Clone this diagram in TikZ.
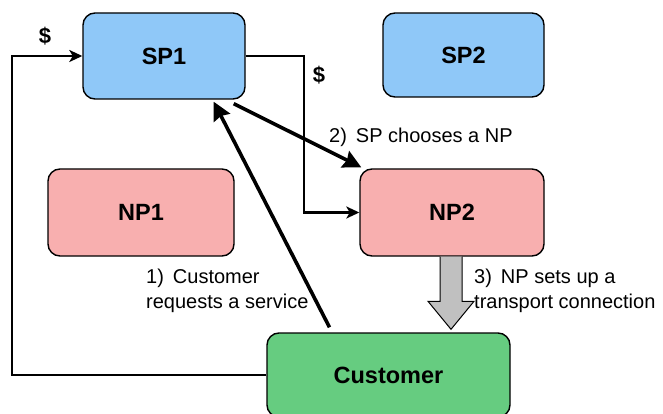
\documentclass[tikz,border=0pt]{standalone}
\usepackage{fontspec}
\setmainfont{Liberation Sans}
\usetikzlibrary{arrows.meta,calc}
\definecolor{spblue}{HTML}{8FC8F8}
\definecolor{nppink}{HTML}{F8AFAF}
\definecolor{custgreen}{HTML}{66CC80}
\definecolor{arrgray}{HTML}{C0C0C0}
\begin{document}
\begin{tikzpicture}[x=1pt,y=-1pt,
  box/.style={draw=black, line width=1.4pt, rounded corners=12pt, inner sep=0pt,
    font=\fontsize{23.5}{27}\selectfont\bfseries},
  thinarr/.style={draw=black, line width=2.2pt, -{Stealth[length=13pt,width=12pt,inset=3.5pt]}},
  thickarr/.style={draw=black, line width=3.6pt, -{Stealth[length=18pt,width=18pt,inset=2pt]}},
  lbl/.style={inner sep=0pt, font=\fontsize{20}{25.5}\selectfont, align=left},
  dollar/.style={inner sep=0pt, font=\fontsize{22}{26}\selectfont\bfseries}]
\path[use as bounding box] (0,0) rectangle (663,414);
\node[box, fill=spblue, minimum width=162pt, minimum height=86pt] (sp1) at (164,56) {SP1};
\node[box, fill=spblue, minimum width=161pt, minimum height=84pt] (sp2) at (463.5,55) {SP2};
\node[box, fill=nppink, minimum width=186pt, minimum height=87pt] (np1) at (141,212.5) {NP1};
\node[box, fill=nppink, minimum width=184pt, minimum height=87pt] (np2) at (452,212.5) {NP2};
\node[box, fill=custgreen, minimum width=243pt, minimum height=84pt] (cust) at (388.5,375) {Customer};
% money flows
\draw[thinarr] (cust.west) -- ++(-254,0) |- (sp1.west);
\draw[thinarr] (sp1.east) -- ++(58,0) |- (np2.west);
\node[dollar] (d1) at (45,36) {\$};
\node[dollar] (d2) at (319,75) {\$};
% thick arrows
\draw[thickarr] ($(cust.north)+(-59,-5)$) -- ($(sp1.south east)+(-32,2)$);
\draw[thickarr] ($(sp1.south east)+(-12,4)$) -- ($(np2.north west)+(2,-1)$);
% gray block arrow
\coordinate (gtop) at ($(np2.south)+(-1,0)$);
\coordinate (gtip) at ($(gtop |- cust.north)+(0,-3)$);
\draw[line width=1pt, fill=arrgray]
  ($(gtop)+(-11,0)$) -- ($(gtip)+(-11,-28)$) -- ($(gtip)+(-23,-28)$) -- (gtip)
  -- ($(gtip)+(23,-28)$) -- ($(gtip)+(11,-28)$) -- ($(gtop)+(11,0)$);
% labels
\node[lbl, anchor=base west] (l2) at (329,143) {2)\hspace{0.45em}SP chooses a NP};
\node[lbl, anchor=north west] (l1) at (146,268.5) {1)\hspace{0.45em}Customer\\requests a service};
\node[lbl, anchor=north west] (l3) at (474,268.5) {3)\hspace{0.45em}NP sets up a\\transport connection};
\end{tikzpicture}
\end{document}
